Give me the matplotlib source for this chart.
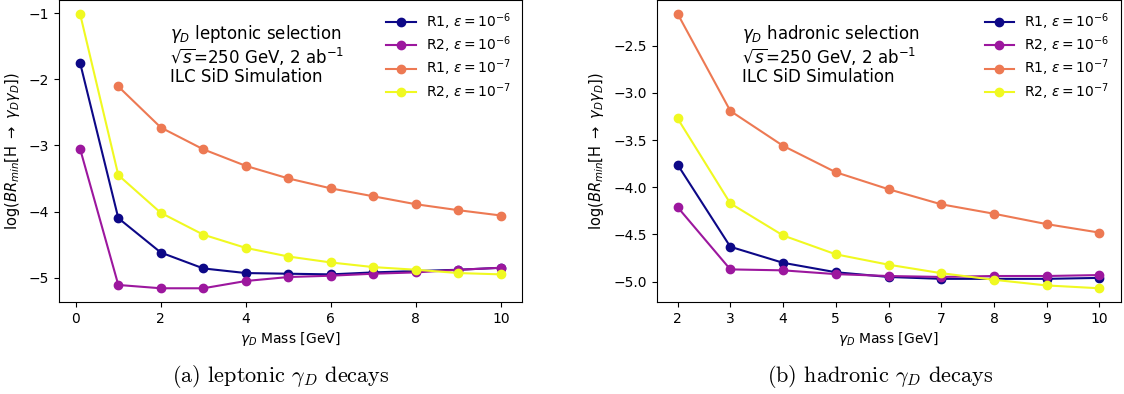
import matplotlib
matplotlib.use("Agg")
import matplotlib.pyplot as plt

# Data
mass_lep = [0.1, 1, 2, 3, 4, 5, 6, 7, 8, 9, 10]
mass_lep_r1e7 = [1, 2, 3, 4, 5, 6, 7, 8, 9, 10]
lep_r1_e6 = [-1.75, -4.10, -4.62, -4.86, -4.93, -4.94, -4.95, -4.92, -4.90, -4.88, -4.85]
lep_r2_e6 = [-3.05, -5.11, -5.16, -5.16, -5.05, -4.99, -4.97, -4.94, -4.92, -4.88, -4.85]
lep_r1_e7 = [-2.11, -2.73, -3.06, -3.31, -3.50, -3.65, -3.77, -3.89, -3.98, -4.06]
lep_r2_e7 = [-1.01, -3.45, -4.02, -4.35, -4.55, -4.68, -4.77, -4.84, -4.88, -4.93, -4.95]

mass_had = [2, 3, 4, 5, 6, 7, 8, 9, 10]
had_r1_e6 = [-3.76, -4.63, -4.80, -4.90, -4.95, -4.97, -4.97, -4.97, -4.96]
had_r2_e6 = [-4.21, -4.87, -4.88, -4.92, -4.94, -4.95, -4.94, -4.94, -4.93]
had_r1_e7 = [-2.16, -3.19, -3.56, -3.84, -4.02, -4.18, -4.28, -4.39, -4.48]
had_r2_e7 = [-3.27, -4.17, -4.51, -4.71, -4.82, -4.91, -4.98, -5.04, -5.07]

labels = [r"R1, $\varepsilon=10^{-6}$", r"R2, $\varepsilon=10^{-6}$",
          r"R1, $\varepsilon=10^{-7}$", r"R2, $\varepsilon=10^{-7}$"]
colors = ["#0d0887", "#9c179e", "#ed7953", "#f0f921"]

W, H = 1124, 394
fig = plt.figure(figsize=(W / 100, H / 100), dpi=100)
ax1 = fig.add_axes([59 / W, 92 / H, 463 / W, 302 / H])
ax2 = fig.add_axes([656.5 / W, 92 / H, 464 / W, 302 / H])

kw = dict(marker="o", markersize=6, linewidth=1.5)
ax1.plot(mass_lep, lep_r1_e6, color=colors[0], label=labels[0], **kw)
ax1.plot(mass_lep, lep_r2_e6, color=colors[1], label=labels[1], **kw)
ax1.plot(mass_lep_r1e7, lep_r1_e7, color=colors[2], label=labels[2], **kw)
ax1.plot(mass_lep, lep_r2_e7, color=colors[3], label=labels[3], **kw)

ax2.plot(mass_had, had_r1_e6, color=colors[0], label=labels[0], **kw)
ax2.plot(mass_had, had_r2_e6, color=colors[1], label=labels[1], **kw)
ax2.plot(mass_had, had_r1_e7, color=colors[2], label=labels[2], **kw)
ax2.plot(mass_had, had_r2_e7, color=colors[3], label=labels[3], **kw)

ax1.set_xticks([0, 2, 4, 6, 8, 10])
ax1.set_yticks([-5, -4, -3, -2, -1])
ax2.set_xticks(mass_had)
ax2.set_yticks([-5.0, -4.5, -4.0, -3.5, -3.0, -2.5])

ylab = r"log($BR_{min}$[H $\rightarrow$ $\gamma_D\gamma_D$])"
for ax in (ax1, ax2):
    ax.set_xlabel(r"$\gamma_D$ Mass [GeV]", fontsize=10, labelpad=3)
    ax.set_ylabel(ylab, fontsize=10.5, labelpad=5)
    ax.tick_params(labelsize=10)
    ax.legend(loc="upper right", frameon=False, fontsize=10, labelspacing=0.2,
              borderaxespad=0.4, handlelength=2.15, handletextpad=0.7)

ax1.text(111.5 / 463, 0.925, "$\\gamma_D$ leptonic selection\n$\\sqrt{s}$=250 GeV, 2 ab$^{-1}$\nILC SiD Simulation",
         transform=ax1.transAxes, fontsize=12, va="top", ha="left", linespacing=1.05)
ax2.text(85 / 464, 0.925, "$\\gamma_D$ hadronic selection\n$\\sqrt{s}$=250 GeV, 2 ab$^{-1}$\nILC SiD Simulation",
         transform=ax2.transAxes, fontsize=12, va="top", ha="left", linespacing=1.05)

fig.text(281 / W, 1 - 376 / H, r"(a) leptonic $\gamma_D$ decays", fontfamily="cmr10",
         math_fontfamily="cm", fontsize=16, ha="center", va="center")
fig.text(880 / W, 1 - 376 / H, r"(b) hadronic $\gamma_D$ decays", fontfamily="cmr10",
         math_fontfamily="cm", fontsize=16, ha="center", va="center")

fig.savefig("out.png", dpi=100)
